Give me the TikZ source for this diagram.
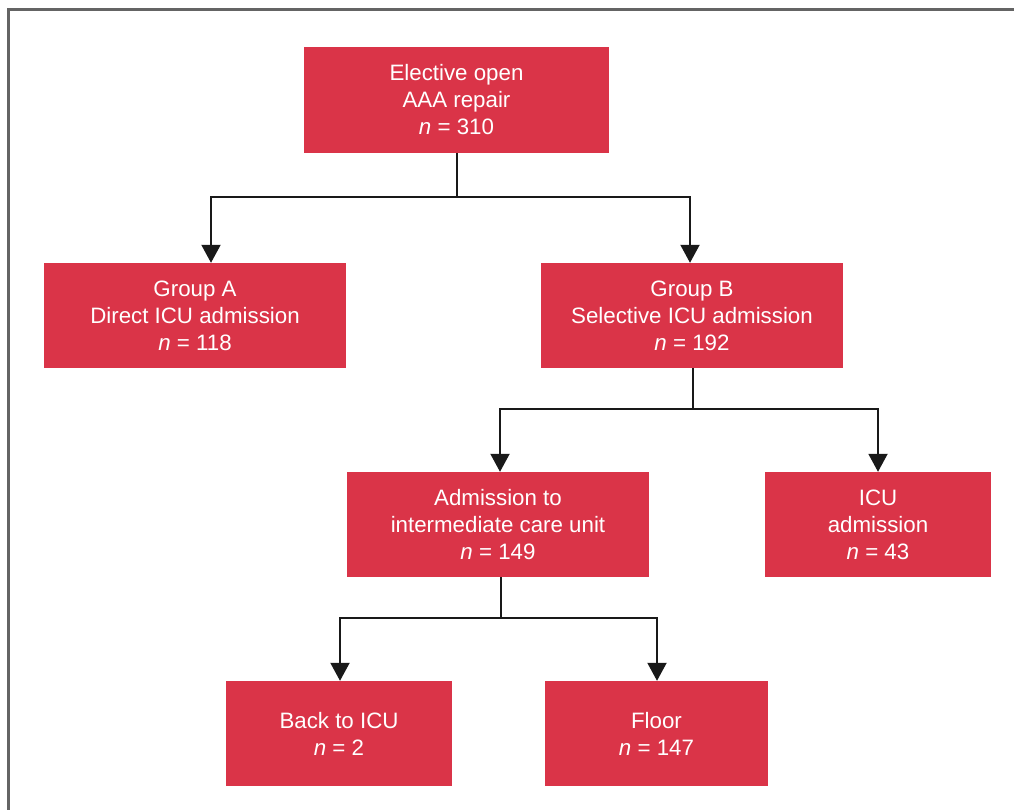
\documentclass[tikz,border=0pt]{standalone}
\usepackage{fontspec}
\setmainfont{Liberation Sans}
\usetikzlibrary{arrows.meta}
\definecolor{boxred}{RGB}{218,52,72}
\definecolor{framegray}{RGB}{100,100,100}
\tikzset{
  box/.style={fill=boxred, draw=none, text=white, align=center, inner sep=0pt,
    font=\fontsize{22.3}{27}\selectfont},
  conn/.style={draw=black!90, line width=2pt},
  arr/.style={conn, -{Triangle[width=19pt,length=18pt]}},
}
\begin{document}
\begin{tikzpicture}[x=1pt,y=-1pt]
\useasboundingbox (0,0) rectangle (1014,810);
\draw[framegray, line width=2.2pt] (8.5,812) -- (8.5,9.5) -- (1016,9.5);

\node[box, minimum width=305pt, minimum height=106pt] (top) at (456.5,100) {Elective open\\AAA repair\\\textit{n} = 310};
\node[box, minimum width=302pt, minimum height=105pt] (ga) at (195,315.5) {Group A\\Direct ICU admission\\\textit{n} = 118};
\node[box, minimum width=302pt, minimum height=105pt] (gb) at (692,315.5) {Group B\\Selective ICU admission\\\textit{n} = 192};
\node[box, minimum width=302pt, minimum height=105pt] (imc) at (498,524.5) {Admission to\\intermediate care unit\\\textit{n} = 149};
\node[box, minimum width=226pt, minimum height=105pt] (icu) at (878,524.5) {ICU\\admission\\\textit{n} = 43};
\node[box, minimum width=226pt, minimum height=105pt] (back) at (339,733.5) {Back to ICU\\\textit{n} = 2};
\node[box, minimum width=223pt, minimum height=105pt] (floor) at (656.5,733.5) {Floor\\\textit{n} = 147};

\coordinate (j1) at (457,197);
\coordinate (j1a) at (211,197);
\coordinate (j1b) at (690,197);
\draw[conn] (top.south -| j1) -- (j1);
\draw[arr] (j1) -- (j1a) -- (j1a |- ga.north);
\draw[arr] (j1) -- (j1b) -- (j1b |- gb.north);

\coordinate (j2) at (693,409);
\coordinate (j2a) at (500,409);
\coordinate (j2b) at (878,409);
\draw[conn] (gb.south -| j2) -- (j2);
\draw[arr] (j2) -- (j2a) -- (j2a |- imc.north);
\draw[arr] (j2) -- (j2b) -- (j2b |- icu.north);

\coordinate (j3) at (501,618);
\coordinate (j3a) at (340,618);
\coordinate (j3b) at (657,618);
\draw[conn] (imc.south -| j3) -- (j3);
\draw[arr] (j3) -- (j3a) -- (j3a |- back.north);
\draw[arr] (j3) -- (j3b) -- (j3b |- floor.north);
\end{tikzpicture}
\end{document}
